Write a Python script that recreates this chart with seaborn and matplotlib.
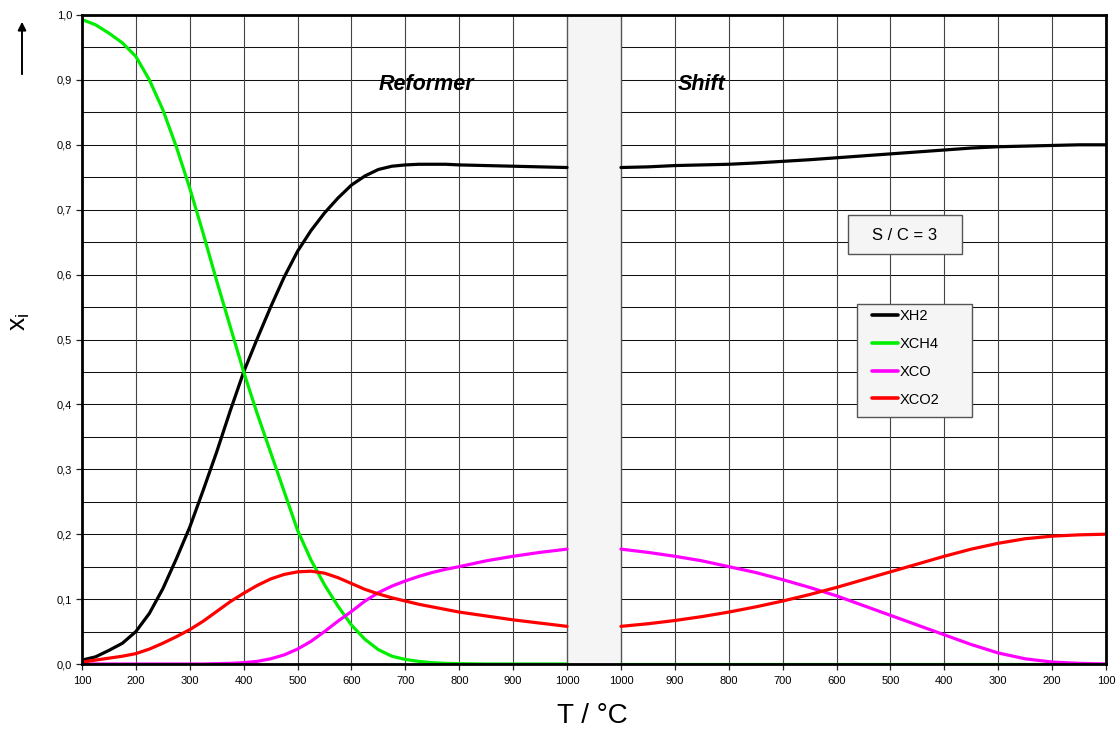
import numpy as np
import pandas as pd
import seaborn as sns
import matplotlib
matplotlib.use("Agg")
import matplotlib.pyplot as plt
from matplotlib.lines import Line2D
from matplotlib.patches import FancyArrowPatch, Rectangle

# Equilibrium mole fractions, reformer stage (heating 100 -> 1000 °C)
T_ref = [100, 125, 150, 175, 200, 225, 250, 275, 300, 325, 350, 375, 400,
         425, 450, 475, 500, 525, 550, 575, 600, 625, 650, 675, 700, 725,
         750, 775, 800, 850, 900, 950, 1000]
xh2_ref = [0.006, 0.011, 0.021, 0.032, 0.050, 0.078, 0.116, 0.162, 0.211,
           0.268, 0.327, 0.390, 0.450, 0.501, 0.550, 0.596, 0.636, 0.668,
           0.695, 0.718, 0.738, 0.752, 0.762, 0.767, 0.769, 0.770, 0.770,
           0.770, 0.769, 0.768, 0.767, 0.766, 0.765]
xch4_ref = [0.993, 0.985, 0.972, 0.957, 0.936, 0.900, 0.854, 0.797, 0.733,
            0.663, 0.590, 0.520, 0.450, 0.386, 0.326, 0.266, 0.206, 0.160,
            0.122, 0.089, 0.060, 0.038, 0.022, 0.012, 0.007, 0.004, 0.002,
            0.001, 0.0005, 0.0, 0.0, 0.0, 0.0]
xco_ref = [0.0, 0.0, 0.0, 0.0, 0.0, 0.0, 0.0, 0.0, 0.0, 0.0, 0.0005, 0.001,
           0.002, 0.004, 0.008, 0.014, 0.023, 0.035, 0.050, 0.066, 0.081,
           0.097, 0.110, 0.120, 0.128, 0.135, 0.141, 0.146, 0.150, 0.159,
           0.166, 0.172, 0.177]
xco2_ref = [0.003, 0.006, 0.009, 0.012, 0.016, 0.023, 0.032, 0.042, 0.053,
            0.066, 0.081, 0.096, 0.109, 0.121, 0.131, 0.138, 0.142, 0.143,
            0.140, 0.133, 0.124, 0.115, 0.108, 0.102, 0.097, 0.092, 0.088,
            0.084, 0.080, 0.074, 0.068, 0.063, 0.058]

# Shift stage (cooling 1000 -> 100 °C)
T_shift = [1000, 950, 900, 850, 800, 750, 700, 650, 600, 550, 500, 450, 400,
           350, 300, 250, 200, 150, 100]
xh2_shift = [0.765, 0.766, 0.768, 0.769, 0.770, 0.772, 0.7745, 0.777, 0.780,
             0.783, 0.786, 0.789, 0.792, 0.795, 0.797, 0.798, 0.799, 0.800, 0.800]
xch4_shift = [0.0] * 19
xco_shift = [0.177, 0.172, 0.166, 0.159, 0.150, 0.141, 0.130, 0.118, 0.105,
             0.090, 0.075, 0.060, 0.045, 0.030, 0.017, 0.008, 0.003, 0.001, 0.0]
xco2_shift = [0.058, 0.062, 0.067, 0.073, 0.080, 0.088, 0.097, 0.107, 0.118,
              0.130, 0.142, 0.154, 0.166, 0.177, 0.186, 0.193, 0.197, 0.199, 0.200]

species = ["XH2", "XCH4", "XCO", "XCO2"]
colors = {"XH2": "#000000", "XCH4": "#00ee00", "XCO": "#ff00ff", "XCO2": "#ff0000"}

x_ticks_ref = [100, 200, 300, 400, 500, 600, 700, 800, 900, 1000]
x_ticks_shift = [1000, 900, 800, 700, 600, 500, 400, 300, 200, 100]
y_ticks = [0.0, 0.1, 0.2, 0.3, 0.4, 0.5, 0.6, 0.7, 0.8, 0.9, 1.0]


def ref_pos(t):
    return (np.asarray(t, dtype=float) - 100) / 100


def shift_pos(t):
    return 10 + (1000 - np.asarray(t, dtype=float)) / 100


rows = []
for name, yr, ys in [("XH2", xh2_ref, xh2_shift), ("XCH4", xch4_ref, xch4_shift),
                     ("XCO", xco_ref, xco_shift), ("XCO2", xco2_ref, xco2_shift)]:
    for p, v in zip(ref_pos(T_ref), yr):
        rows.append({"pos": p, "x": v, "species": name, "stage": "Reformer"})
    for p, v in zip(shift_pos(T_shift), ys):
        rows.append({"pos": p, "x": v, "species": name, "stage": "Shift"})
df = pd.DataFrame(rows)

sns.set_style("white")
plt.rcParams["font.family"] = ["Liberation Sans", "DejaVu Sans"]
plt.rcParams["text.color"] = "black"

W, H = 1119, 731
fig = plt.figure(figsize=(W / 100, H / 100), dpi=100)
ax = fig.add_axes([82 / W, 67 / H, 1024 / W, 649 / H])


def fx(px):
    return px / W


def fy(py):
    return 1 - py / H


# grid: every 100 °C vertically, every 0.05 horizontally
for v in np.arange(0.05, 1.0, 0.05):
    ax.axhline(v, color="#111111", lw=0.75, zorder=1)
for p in list(range(1, 9)) + list(range(11, 19)):
    ax.axvline(p, color="#444444", lw=0.8, zorder=1)

# gap between the two stages
ax.axvspan(9, 10, facecolor="#f5f5f5", edgecolor="#555555", lw=1.0, zorder=2)

sns.lineplot(data=df, x="pos", y="x", hue="species", units="stage",
             estimator=None, palette=colors, hue_order=species,
             lw=2.3, ax=ax, legend=False, zorder=3, sort=False)

ax.set_xlim(0, 19)
ax.set_ylim(0, 1.0)

xt = list(ref_pos(x_ticks_ref)) + list(shift_pos(x_ticks_shift))
ax.set_xticks(xt)
ax.set_xticklabels([str(t) for t in x_ticks_ref + x_ticks_shift])
ax.set_yticks(y_ticks)
ax.set_yticklabels([f"{v:.1f}".replace(".", ",") for v in y_ticks])
ax.tick_params(axis="both", labelsize=8, length=4, width=0.9, color="#222222",
               labelcolor="black", direction="out", bottom=True, left=True, pad=3)
ax.tick_params(axis="x", pad=5)

for s in ax.spines.values():
    s.set_color("black")
    s.set_linewidth(2.0)
    s.set_zorder(5)

ax.set_xlabel("")
ax.set_ylabel("")

fig.text(fx(592), fy(716), "T / °C", fontsize=20, ha="center", va="center",
         color="black")
fig.text(fx(20), fy(322), r"x$_\mathregular{i}$", fontsize=19,
         rotation=90, ha="center", va="center", color="black")
fig.add_artist(FancyArrowPatch((fx(22), fy(77)), (fx(22), fy(19)),
                               transform=fig.transFigure, arrowstyle="-|>",
                               mutation_scale=12, color="black", lw=1.4))

fig.text(fx(426), fy(85), "Reformer", fontsize=15.5, fontweight="bold",
         fontstyle="italic", ha="center", va="center", color="black")
fig.text(fx(702), fy(85), "Shift", fontsize=15.5, fontweight="bold",
         fontstyle="italic", ha="center", va="center", color="black")

# S/C annotation box
fig.add_artist(Rectangle((fx(848), fy(254)), 114 / W, 39 / H,
                         transform=fig.transFigure, facecolor="#f5f5f5",
                         edgecolor="#555555", lw=1.0, zorder=6))
fig.text(fx(905), fy(235), "S / C = 3", fontsize=12, ha="center", va="center",
         color="black", zorder=7)

# legend box
fig.add_artist(Rectangle((fx(857), fy(417)), 115 / W, 113 / H,
                         transform=fig.transFigure, facecolor="#f5f5f5",
                         edgecolor="#555555", lw=1.0, zorder=6))
handles = [Line2D([0], [0], color=colors[s], lw=2.6) for s in species]
leg = fig.legend(handles, species, loc="upper left",
                 bbox_to_anchor=(fx(872), fy(309)),
                 bbox_transform=fig.transFigure, fontsize=10.5, frameon=False,
                 handlelength=1.8, handletextpad=0.1, labelspacing=0.95,
                 borderpad=0, borderaxespad=0)
leg.set_zorder(8)
for t in leg.get_texts():
    t.set_color("black")

fig.savefig("out.png", dpi=100, facecolor="white")
